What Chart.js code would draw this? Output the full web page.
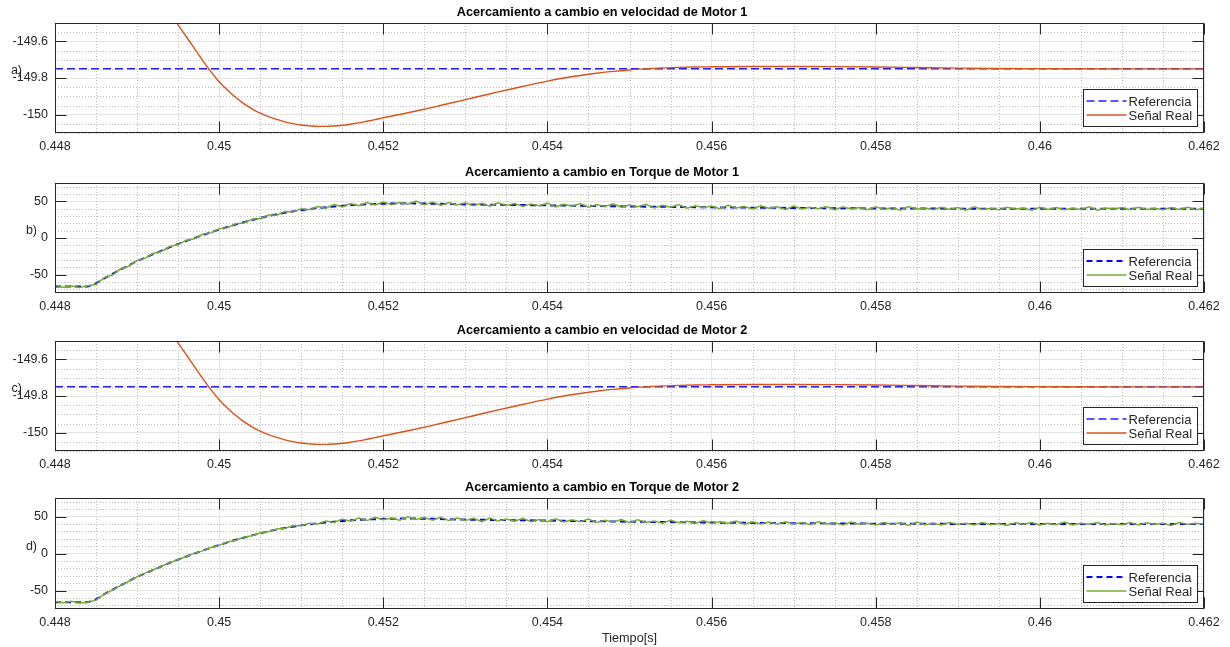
<!DOCTYPE html>
<html>
<head>
    <title>Acercamiento a cambio</title>
    <script src="https://cdn.jsdelivr.net/npm/chart.js"></script>
    <style>
        body { margin: 0; background: #fff; }
        .panel { position: absolute; left: 0; }
    </style>
</head>
<body>
    <div class="panel" style="top:0px"><canvas id="c1" width="1230" height="155"></canvas></div>
    <div class="panel" style="top:160px"><canvas id="c2" width="1230" height="155"></canvas></div>
    <div class="panel" style="top:318px"><canvas id="c3" width="1230" height="155"></canvas></div>
    <div class="panel" style="top:475px"><canvas id="c4" width="1230" height="172"></canvas></div>

    <script>
        // axis ticks
        var xTicks = [0.448, 0.450, 0.452, 0.454, 0.456, 0.458, 0.460, 0.462];
        var speedTicks = [-150, -149.8, -149.6];
        var torqueTicks = [-50, 0, 50];

        // speed plots (a, c)
        var tSpeedRef = [0.448, 0.462];
        var speedRef = [-149.75, -149.75];
        var tSpeedReal = [0.4492, 0.4493, 0.4494, 0.4495, 0.4496, 0.4497, 0.4498, 0.4499,
            0.4500, 0.4501, 0.4502, 0.4503, 0.4504, 0.4505, 0.4506, 0.4507, 0.4508, 0.4509,
            0.4510, 0.4511, 0.4512, 0.4513, 0.4514, 0.4515, 0.4516, 0.4517, 0.4518, 0.4519,
            0.4520, 0.4522, 0.4524, 0.4526, 0.4528, 0.4530, 0.4532, 0.4534, 0.4536, 0.4538,
            0.4540, 0.4542, 0.4544, 0.4546, 0.4548, 0.4550, 0.4552, 0.4554, 0.4556, 0.4558,
            0.4560, 0.4565, 0.4570, 0.4575, 0.4580, 0.4585, 0.4590, 0.4595, 0.4600, 0.4610, 0.4620];
        var speedReal = [-149.29, -149.37, -149.44, -149.51, -149.575, -149.64, -149.705, -149.765,
            -149.82, -149.866, -149.905, -149.94, -149.968, -149.992, -150.011, -150.026, -150.039, -150.049,
            -150.056, -150.061, -150.064, -150.064, -150.062, -150.058, -150.052, -150.045, -150.036, -150.027,
            -150.017, -149.999, -149.98, -149.96, -149.939, -149.918, -149.897, -149.876, -149.856, -149.836,
            -149.817, -149.80, -149.786, -149.774, -149.764, -149.756, -149.75, -149.745, -149.742, -149.740,
            -149.739, -149.737, -149.737, -149.738, -149.740, -149.743, -149.746, -149.748, -149.749, -149.75, -149.75];

        // torque plots (b, d)
        var tTorqueRef = [0.448, 0.4484, 0.4485, 0.4486, 0.4488, 0.4490, 0.4492, 0.4494, 0.4496, 0.4498,
            0.4500, 0.4502, 0.4504, 0.4506, 0.4508, 0.4510, 0.4512, 0.4514, 0.4516, 0.4518,
            0.4520, 0.4523, 0.4526, 0.4530, 0.4540, 0.4550, 0.4560, 0.4570, 0.4580, 0.4590,
            0.4600, 0.4610, 0.4620];
        var torqueRef = [-66, -66, -62, -55, -43, -31.5, -22, -12.5, -4, 4,
            11.5, 18.5, 24.5, 30, 34.5, 38, 41, 43, 44.8, 46,
            46.8, 47.3, 46.8, 45.8, 44.5, 43, 41.8, 41, 40.3, 40,
            40, 40, 40];
        // sampled every 0.1 ms from 0.448 s
        var tTorqueReal = Array.from({ length: 141 }, (_, i) => +(0.448 + i * 0.0001).toFixed(4));
        var torqueReal1 = [
            -64.5, -67, -65.5, -67.5, -65, -63.5, -54, -50.5, -42, -38.5,
            -30.5, -27.5, -21, -18, -11.5, -9, -3, -1, 5, 7,
            12.5, 14, 19.5, 20.5, 25.5, 26.5, 31.5, 31, 36, 35.5,
            40, 38.5, 43, 40.5, 45.5, 42.5, 47, 44, 48.5, 45,
            49, 45.5, 48.5, 46, 50.5, 45, 49, 44.5, 48.5, 45,
            48, 44, 47.5, 43.5, 48, 44.5, 47, 43, 46.5, 44,
            47.5, 42.5, 46, 43.5, 47, 42, 45.5, 43, 46.5, 42,
            45, 42.5, 46, 41, 44.5, 42, 45.5, 40.5, 44, 41.5,
            43.5, 40, 44.5, 41, 43, 39.5, 44, 40.5, 42.5, 39,
            43.5, 39.5, 42, 40, 43, 38.5, 42.5, 39.5, 41.5, 38.5,
            42.5, 39, 41.5, 38, 43, 39.5, 41, 38.5, 42, 39,
            41.5, 38, 42.5, 39, 40.5, 38.5, 42, 39.5, 41, 38,
            42, 39, 41.5, 38.5, 40.5, 39, 42.5, 38, 41, 39.5,
            41.5, 38.5, 42, 39, 40.5, 38.5, 41.5, 39, 42, 38.5, 40.5];
        var torqueReal2 = [
            -65, -66.5, -64.5, -67, -66, -63, -55, -49.5, -43, -37.5,
            -31.5, -26.5, -22, -17, -12.5, -8, -4, 0.5, 3.5, 8,
            11, 15.5, 18, 22, 24, 28, 29.5, 33, 34, 37.5,
            37.5, 41, 40, 44, 42, 46.5, 43.5, 48, 44.5, 49,
            45.5, 48, 45, 49.5, 46, 48.5, 45, 49, 44.5, 48,
            44.5, 47.5, 43, 48, 44, 46.5, 43.5, 47.5, 43, 46,
            43, 47, 42.5, 45.5, 43, 46.5, 42, 45, 42.5, 46,
            41.5, 45.5, 42, 44, 41, 45, 41.5, 43.5, 40.5, 44.5,
            40.5, 43, 41, 44, 39.5, 43, 40, 42.5, 39.5, 43,
            40, 42, 39, 43, 40, 41.5, 38.5, 42.5, 39.5, 41,
            38.5, 42, 39.5, 41.5, 38, 42.5, 39, 41, 38.5, 42,
            39.5, 41, 38.5, 42, 39, 40.5, 38, 41.5, 39.5, 42,
            38.5, 41, 39, 42.5, 38.5, 41, 39.5, 42, 38.5, 40.5,
            39, 42, 38.5, 41.5, 39.5, 41, 38, 42, 39.5, 41, 40];

        var titles = [
            'Acercamiento a cambio en velocidad de Motor 1',
            'Acercamiento a cambio en Torque de Motor 1',
            'Acercamiento a cambio en velocidad de Motor 2',
            'Acercamiento a cambio en Torque de Motor 2'
        ];

        var FONT = '"Liberation Sans", Arial, Helvetica, sans-serif';
        Chart.defaults.font.family = FONT;
        Chart.defaults.font.size = 12.5;
        Chart.defaults.color = '#262626';

        var AXIS = '#262626';

        function pts(t, v) {
            return t.map((x, i) => ({ x: x, y: v[i] }));
        }

        // matlab-like axes: dotted minor grid, box, inward ticks, legend, labels
        var matlabAxes = {
            id: 'matlabAxes',
            beforeDatasetsDraw(chart, args, o) {
                const ctx = chart.ctx, a = chart.chartArea;
                const xs = chart.scales.x, ys = chart.scales.y;
                ctx.save();
                ctx.strokeStyle = '#bdbdbd';
                ctx.lineWidth = 1;
                ctx.setLineDash([1, 2]);
                function minor(scale, step, majors, vertical) {
                    const k0 = Math.ceil(scale.min / step - 1e-6), k1 = Math.floor(scale.max / step + 1e-6);
                    for (let k = k0; k <= k1; k++) {
                        const v = k * step;
                        if (majors.some(m => Math.abs(m - v) < step * 0.01)) continue;
                        const p = Math.round(scale.getPixelForValue(v)) + 0.5;
                        ctx.beginPath();
                        if (vertical) { ctx.moveTo(p, a.top); ctx.lineTo(p, a.bottom); }
                        else { ctx.moveTo(a.left, p); ctx.lineTo(a.right, p); }
                        ctx.stroke();
                    }
                }
                minor(xs, o.xMinor, xTicks, true);
                minor(ys, o.yMinor, o.yMajor, false);
                ctx.restore();
            },
            afterDatasetsDraw(chart, args, o) {
                const ctx = chart.ctx, a = chart.chartArea;
                const xs = chart.scales.x, ys = chart.scales.y;
                const L = Math.round(a.left) + 0.5, R = Math.round(a.right) - 0.5;
                const T = Math.round(a.top) + 0.5, B = Math.round(a.bottom) - 0.5;
                ctx.save();
                // ticks
                ctx.strokeStyle = AXIS;
                ctx.lineWidth = 1;
                const tl = 11;
                xTicks.forEach(v => {
                    const p = Math.round(xs.getPixelForValue(v)) + 0.5;
                    ctx.beginPath();
                    ctx.moveTo(p, B); ctx.lineTo(p, B - tl);
                    ctx.moveTo(p, T); ctx.lineTo(p, T + tl);
                    ctx.stroke();
                });
                o.yMajor.forEach(v => {
                    const p = Math.round(ys.getPixelForValue(v)) + 0.5;
                    ctx.beginPath();
                    ctx.moveTo(L, p); ctx.lineTo(L + tl, p);
                    ctx.moveTo(R, p); ctx.lineTo(R - tl, p);
                    ctx.stroke();
                });
                // box
                ctx.strokeRect(L, T, R - L, B - T);

                // legend
                const w = 114, h = 37;
                const lx = Math.round(a.right - 7 - w) + 0.5, ly = Math.round(a.bottom - 7 - h) + 0.5;
                ctx.fillStyle = '#fff';
                ctx.fillRect(lx, ly, w, h);
                ctx.strokeStyle = AXIS;
                ctx.lineWidth = 1;
                ctx.strokeRect(lx, ly, w, h);
                ctx.font = '13px ' + FONT;
                ctx.textBaseline = 'middle';
                ctx.textAlign = 'left';
                chart.data.datasets.forEach((ds, i) => {
                    const cy = ly + 11.5 + i * 14;
                    ctx.save();
                    ctx.beginPath();
                    ctx.strokeStyle = ds.borderColor;
                    ctx.lineWidth = Math.max(1.5, ds.borderWidth);
                    ctx.setLineDash(ds.borderDash || []);
                    ctx.moveTo(lx + 3, cy);
                    ctx.lineTo(lx + 43, cy);
                    ctx.stroke();
                    ctx.restore();
                    ctx.fillStyle = AXIS;
                    ctx.fillText(ds.label, lx + 45, cy + 1);
                });

                // panel label
                ctx.font = '12.5px ' + FONT;
                ctx.textAlign = 'right';
                ctx.fillStyle = AXIS;
                ctx.fillText(o.panel, o.panelX, (a.top + a.bottom) / 2 - 7);

                // x label
                if (o.xlabel) {
                    ctx.font = '12.7px ' + FONT;
                    ctx.textAlign = 'center';
                    ctx.fillText(o.xlabel, (a.left + a.right) / 2, a.bottom + 29);
                }
                ctx.restore();
            }
        };

        function makeChart(id, title, datasets, yMin, yMax, yMajor, yMinor, panel, panelX, xlabel, padBottom) {
            return new Chart(document.getElementById(id), {
                type: 'line',
                data: { datasets: datasets },
                plugins: [matlabAxes],
                options: {
                    responsive: false,
                    animation: false,
                    layout: { padding: { top: 0, left: 0, right: 26, bottom: padBottom } },
                    elements: { point: { radius: 0 }, line: { tension: 0 } },
                    plugins: {
                        legend: { display: false },
                        tooltip: { enabled: false },
                        title: {
                            display: true,
                            text: title,
                            color: '#000',
                            font: { size: 12.7, weight: 'bold', lineHeight: 1.15 },
                            padding: { top: 5, bottom: 3.4 }
                        },
                        matlabAxes: {
                            xMinor: 0.0005, yMinor: yMinor, yMajor: yMajor,
                            panel: panel, panelX: panelX, xlabel: xlabel
                        }
                    },
                    scales: {
                        x: {
                            type: 'linear',
                            min: 0.448,
                            max: 0.462,
                            afterBuildTicks: s => { s.ticks = xTicks.map(v => ({ value: v })); },
                            afterFit: s => { s.height = 22; },
                            grid: { color: '#e4e4e4', lineWidth: 1, drawTicks: false },
                            border: { display: false },
                            ticks: {
                                autoSkip: false, maxRotation: 0, padding: 6, color: AXIS,
                                callback: v => String(+v.toFixed(3))
                            }
                        },
                        y: {
                            min: yMin,
                            max: yMax,
                            afterBuildTicks: s => { s.ticks = yMajor.map(v => ({ value: v })); },
                            afterFit: s => { s.width = 55; },
                            grid: { color: '#e4e4e4', lineWidth: 1, drawTicks: false },
                            border: { display: false },
                            ticks: {
                                padding: 7, color: AXIS,
                                callback: v => String(+v.toFixed(2))
                            }
                        }
                    }
                }
            });
        }

        function speedSets() {
            return [{
                label: 'Referencia',
                data: pts(tSpeedRef, speedRef),
                borderColor: '#1f1fff',
                borderWidth: 1.5,
                borderDash: [8, 4],
                order: 2
            }, {
                label: 'Señal Real',
                data: pts(tSpeedReal, speedReal),
                borderColor: '#d95319',
                borderWidth: 1.4,
                cubicInterpolationMode: 'monotone',
                order: 1
            }];
        }

        function torqueSets(real) {
            return [{
                label: 'Referencia',
                data: pts(tTorqueRef, torqueRef),
                borderColor: '#0000ff',
                borderWidth: 2,
                borderDash: [6, 4],
                order: 2
            }, {
                label: 'Señal Real',
                data: pts(tTorqueReal, real),
                borderColor: '#77ac30',
                borderWidth: 1.5,
                order: 1
            }];
        }

        makeChart('c1', titles[0], speedSets(), -150.1, -149.5, speedTicks, 0.05, 'a)', 22, '', 0);
        makeChart('c2', titles[1], torqueSets(torqueReal1), -75, 75, torqueTicks, 10, 'b)', 37, '', 0);
        makeChart('c3', titles[2], speedSets(), -150.1, -149.5, speedTicks, 0.05, 'c)', 22, '', 0);
        makeChart('c4', titles[3], torqueSets(torqueReal2), -75, 75, torqueTicks, 10, 'd)', 37, 'Tiempo[s]', 16);
    </script>
</body>
</html>
